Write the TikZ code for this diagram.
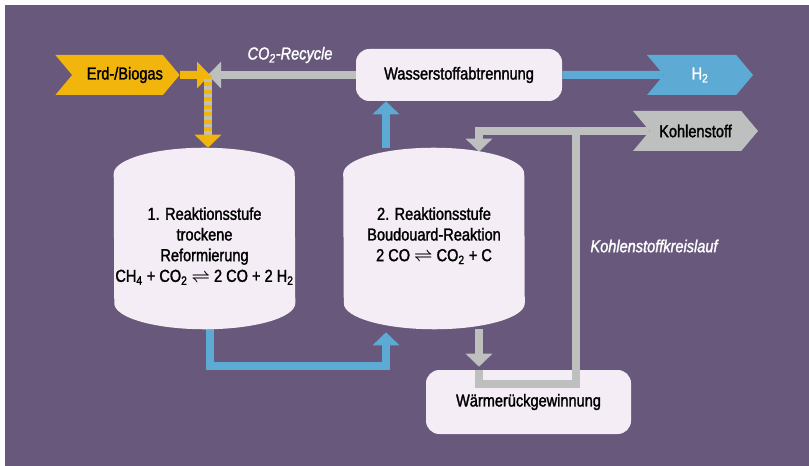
\documentclass[tikz,border=0pt]{standalone}
\usepackage{fontspec}
\setmainfont{Liberation Sans}[FakeStretch=0.84,FakeBold=1.6]
\usetikzlibrary{arrows.meta,positioning,shapes.symbols}

\definecolor{lila}{RGB}{104,88,124}
\definecolor{hell}{RGB}{244,237,246}
\definecolor{gelb}{RGB}{241,181,12}
\definecolor{blau}{RGB}{93,170,212}
\definecolor{grau}{RGB}{190,192,191}

\pgfdeclarelayer{background}
\pgfsetlayers{background,main}

\newcommand{\gleich}{{\boldmath$\rightleftharpoons$}}

\begin{document}
\begin{tikzpicture}[x=0.75pt,y=-0.75pt,font=\fontsize{13}{15.5}\selectfont]

      \tikzstyle{box}=[shape=rectangle,rounded corners=10pt,fill=hell,minimum width=154.5pt,minimum height=39pt,align=center]
      \tikzstyle{tank}=[shape=rectangle,minimum width=135.75pt,minimum height=135.75pt,inner sep=0pt]
      \tikzstyle{deckel}=[x radius=67.875pt,y radius=19.5pt]
      \tikzstyle{tag}=[shape=signal,signal from=west,signal to=east,signal pointer angle=100,minimum height=30pt,inner sep=0pt]
      \tikzstyle{stream}=[line width=6pt]
      \tikzstyle{pfeil}=[-{Triangle[width=19.5pt,length=9.75pt]}]
      \tikzstyle{notiz}=[text=white,font=\fontsize{13}{15.5}\selectfont\itshape]

      \useasboundingbox (0,0) rectangle (809,466);

      \node[tag,fill=gelb,minimum width=90.75pt] (A) at (117.5,75) {\hspace*{11pt}Erd-/Biogas};
      \node[box] (B) at (459,75) {Wasserstoffabtrennung};
      \node[tag,fill=blau,text=white,minimum width=79.5pt] (F) at (700,75) {H\textsubscript{2}};
      \node[tag,fill=grau,minimum width=93.75pt] (G) at (695.5,131) {Kohlenstoff};

      % Reaktoren
      \node[tank] (C) at (204.5,238.5) {};
      \node[tank] (D) at (434,238.5) {};
      \fill[hell] ([yshift=-19.5pt]C.north west) arc[deckel,start angle=180,end angle=0] -- ([yshift=19.5pt]C.south east) arc[deckel,start angle=0,end angle=-180] -- cycle;
      \fill[hell] ([yshift=-19.5pt]D.north west) arc[deckel,start angle=180,end angle=0] -- ([yshift=19.5pt]D.south east) arc[deckel,start angle=0,end angle=-180] -- cycle;
      \node[align=center,anchor=north,inner sep=0pt] (Ct) at (204.5,207) {1. Reaktionsstufe\\trockene\\Reformierung\\CH\textsubscript{4} + CO\textsubscript{2} \gleich{} 2 CO + 2 H\textsubscript{2}};
      \node[align=center,anchor=north,inner sep=0pt] (Dt) at (434,207) {2. Reaktionsstufe\\Boudouard-Reaktion\\2 CO \gleich{} CO\textsubscript{2} + C};

      \node[box,minimum width=153.75pt,minimum height=48pt] (E) at (528.5,402) {Wärmerückgewinnung};

      \node[notiz] (R) at (290,55) {CO\textsubscript{2}-Recycle};
      \node[notiz] (S) at (654,246) {Kohlenstoffkreislauf};

      \coordinate (J) at (208,75);
      \coordinate (K) at (575.5,131);
      \coordinate (M) at (479,383.5);
      \coordinate (U) at (209.5,366);
      \coordinate (V) at (386,366);

      \begin{pgfonlayer}{background}
      \fill[lila] (5,5) rectangle (809,466);
      \path [stream,gelb,pfeil] (A) edge ([xshift=1.5pt]J);
      \path [stream,grau,pfeil] (B) edge (J);
      \path [stream,grau,shorten >=9.75pt] (J) edge (J |- C.north);
      \path [stream,gelb,pfeil,dash pattern=on 2.8pt off 2.8pt] (J) edge (J |- C.north);
      \path [stream,blau] (B) edge (F);
      \draw [stream,blau,pfeil,shorten >=2.25pt] (C.south -| U) -- (U) -- (V) -- (V |- D.south);
      \path [stream,blau,pfeil] (V |- D.north) edge (V |- B.south);
      \draw [stream,grau,pfeil,shorten >=-3pt] (G) -| (M |- D.north);
      \path [stream,grau,pfeil,shorten >=2.25pt] (M |- D.south) edge (M |- E.north);
      \end{pgfonlayer}

      \draw [stream,grau] (M |- E.north) -- (M) -| (K);
    \end{tikzpicture}
\end{document}
